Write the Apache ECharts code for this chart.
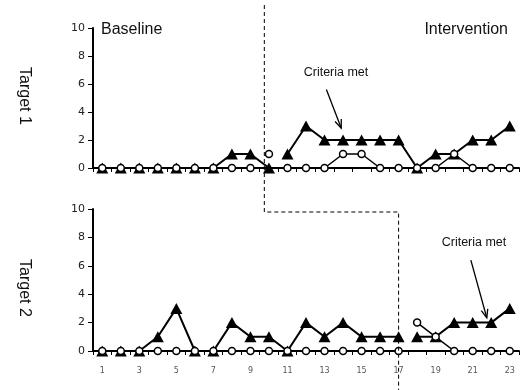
<!DOCTYPE html>
<html>
<head>
<meta charset="utf-8">
<script src="https://cdn.jsdelivr.net/npm/echarts@6/dist/echarts.min.js"></script>
<style>
html,body{margin:0;padding:0;background:#fff;}
#chart{width:525px;height:390px;}
</style>
</head>
<body>
<div id="chart"></div>
<script>
// ---------- data ----------
const sessions = ['1','2','3','4','5','6','7','8','9','10','11','12','13','14','15','16','17','18','19','20','21','22','23'];
const yTicks = [0, 2, 4, 6, 8, 10];

// Target 1 (phase change after session 10)
const t1TriBaseStart = 1;
const t1TriBase = [0,0,0,0,0,0,0,1,1,0];
const t1TriIntStart = 11;
const t1TriInt = [1,3,2,2,2,2,2,0,1,1,2,2,3];
const t1CirBaseStart = 1;
const t1CirBase = [0,0,0,0,0,0,0,0,0];
const t1CirProbeStart = 10;
const t1CirProbe = [1];
const t1CirIntStart = 11;
const t1CirInt = [0,0,0,1,1,0,0,0,0,1,0,0,0];

// Target 2 (phase change after session 17)
const t2TriBaseStart = 1;
const t2TriBase = [0,0,0,1,3,0,0,2,1,1,0,2,1,2,1,1,1];
const t2TriIntStart = 18;
const t2TriInt = [1,1,2,2,2,3];
const t2CirBaseStart = 1;
const t2CirBase = [0,0,0,0,0,0,0,0,0,0,0,0,0,0,0,0,0];
const t2CirIntStart = 18;
const t2CirInt = [2,1,0,0,0,0];

// phase-change positions (in session units) and "criteria met" arrows [session, value]
const phaseT1 = 9.75;
const phaseT2 = 17;
const arrowT1 = { from: [13.1, 5.6], to: [13.9, 2.85] };
const arrowT2 = { from: [20.9, 6.4], to: [21.76, 2.34] };

// ---------- helpers ----------
function pairs(start, vals) {
  return vals.map((v, i) => [sessions[start - 1 + i], v]);
}
function triSeries(g, start, vals) {
  return {
    type: 'line', xAxisIndex: g, yAxisIndex: g,
    data: pairs(start, vals),
    symbol: 'triangle', symbolSize: [12, 11],
    lineStyle: { color: '#000', width: 2 },
    itemStyle: { color: '#000', borderWidth: 0 },
    z: 3, silent: true
  };
}
function cirSeries(g, start, vals) {
  return {
    type: 'line', xAxisIndex: g, yAxisIndex: g,
    data: pairs(start, vals),
    symbol: 'circle', symbolSize: 7,
    lineStyle: { color: '#000', width: 1.5 },
    itemStyle: { color: '#fff', borderColor: '#000', borderWidth: 1.5 },
    z: 4, silent: true
  };
}
function xAxis(g, showLabels) {
  return {
    type: 'category', gridIndex: g, data: sessions,
    boundaryGap: true,
    axisLine: { lineStyle: { color: '#000', width: 2 } },
    axisTick: { show: true, alignWithLabel: false, interval: 0, length: 4, lineStyle: { color: '#000', width: 1 } },
    axisLabel: { show: showLabels, interval: 1, fontFamily: 'DejaVu Sans', fontSize: 8, color: '#555', margin: 16 },
    splitLine: { show: false }
  };
}
function yAxis(g) {
  return {
    type: 'value', gridIndex: g, min: yTicks[0], max: yTicks[yTicks.length - 1], interval: 2,
    axisLine: { show: true, lineStyle: { color: '#000', width: 2 } },
    axisTick: { show: true, length: 5, lineStyle: { color: '#000', width: 1 } },
    axisLabel: { fontFamily: 'DejaVu Sans', fontSize: 11, color: '#222', margin: 8 },
    splitLine: { show: false }
  };
}

const chart = echarts.init(document.getElementById('chart'), null, { renderer: 'canvas' });
chart.setOption({
  animation: false,
  backgroundColor: '#fff',
  grid: [
    { left: 93, top: 28, width: 426, height: 140 },
    { left: 93, top: 209, width: 426, height: 142 }
  ],
  xAxis: [xAxis(0, false), xAxis(1, true)],
  yAxis: [yAxis(0), yAxis(1)],
  series: [
    triSeries(0, t1TriBaseStart, t1TriBase),
    triSeries(0, t1TriIntStart, t1TriInt),
    cirSeries(0, t1CirBaseStart, t1CirBase),
    cirSeries(0, t1CirProbeStart, t1CirProbe),
    cirSeries(0, t1CirIntStart, t1CirInt),
    triSeries(1, t2TriBaseStart, t2TriBase),
    triSeries(1, t2TriIntStart, t2TriInt),
    cirSeries(1, t2CirBaseStart, t2CirBase),
    cirSeries(1, t2CirIntStart, t2CirInt)
  ]
});

// ---------- annotations from data coordinates ----------
function px(g, session, value) {
  const a = chart.convertToPixel({ xAxisIndex: g, yAxisIndex: g }, [0, value]);
  const b = chart.convertToPixel({ xAxisIndex: g, yAxisIndex: g }, [1, value]);
  const step = b[0] - a[0];
  return [a[0] + (session - 1) * step, a[1]];
}
function arrow(g, ar) {
  const p0 = px(g, ar.from[0], ar.from[1]);
  const p1 = px(g, ar.to[0], ar.to[1]);
  const ang = Math.atan2(p1[1] - p0[1], p1[0] - p0[0]);
  const L = 9, spread = 0.38;
  const h1 = [p1[0] - L * Math.cos(ang - spread), p1[1] - L * Math.sin(ang - spread)];
  const h2 = [p1[0] - L * Math.cos(ang + spread), p1[1] - L * Math.sin(ang + spread)];
  return [
    { type: 'line', shape: { x1: p0[0], y1: p0[1], x2: p1[0], y2: p1[1] }, style: { stroke: '#000', lineWidth: 1.3 }, z: 10 },
    { type: 'polyline', shape: { points: [h1, p1, h2] }, style: { stroke: '#000', lineWidth: 1.3, fill: null }, z: 10 }
  ];
}
const xp1 = px(0, phaseT1, 0)[0];
const xp2 = px(1, phaseT2, 0)[0];
const yJoin = 212;
const dash = [4, 3];
const textFont = 'Liberation Sans, Arial, sans-serif';

const graphics = [
  { type: 'polyline', shape: { points: [[xp1, 5], [xp1, yJoin], [xp2, yJoin], [xp2, 390]] },
    style: { stroke: '#000', lineWidth: 1, lineDash: dash, fill: null }, z: 9 },
  { type: 'text', style: { text: 'Baseline', x: 101, y: 30, font: '16px ' + textFont, fill: '#111', textAlign: 'left', textVerticalAlign: 'middle', align: 'left', verticalAlign: 'middle' }, z: 10 },
  { type: 'text', style: { text: 'Intervention', x: 508, y: 30, font: '16px ' + textFont, fill: '#111', textAlign: 'right', textVerticalAlign: 'middle', align: 'right', verticalAlign: 'middle' }, z: 10 },
  { type: 'text', style: { text: 'Criteria met', x: 336, y: 73, font: '12.5px ' + textFont, fill: '#111', textAlign: 'center', textVerticalAlign: 'middle', align: 'center', verticalAlign: 'middle' }, z: 10 },
  { type: 'text', style: { text: 'Criteria met', x: 474, y: 243, font: '12.5px ' + textFont, fill: '#111', textAlign: 'center', textVerticalAlign: 'middle', align: 'center', verticalAlign: 'middle' }, z: 10 },
  { type: 'text', x: 24, y: 96, rotation: -Math.PI / 2, style: { text: 'Target 1', x: 0, y: 0, font: '16px ' + textFont, fill: '#111', textAlign: 'center', textVerticalAlign: 'middle', align: 'center', verticalAlign: 'middle' }, z: 10 },
  { type: 'text', x: 24, y: 288, rotation: -Math.PI / 2, style: { text: 'Target 2', x: 0, y: 0, font: '16px ' + textFont, fill: '#111', textAlign: 'center', textVerticalAlign: 'middle', align: 'center', verticalAlign: 'middle' }, z: 10 }
].concat(arrow(0, arrowT1), arrow(1, arrowT2));

chart.setOption({ graphic: graphics });
</script>
</body>
</html>
